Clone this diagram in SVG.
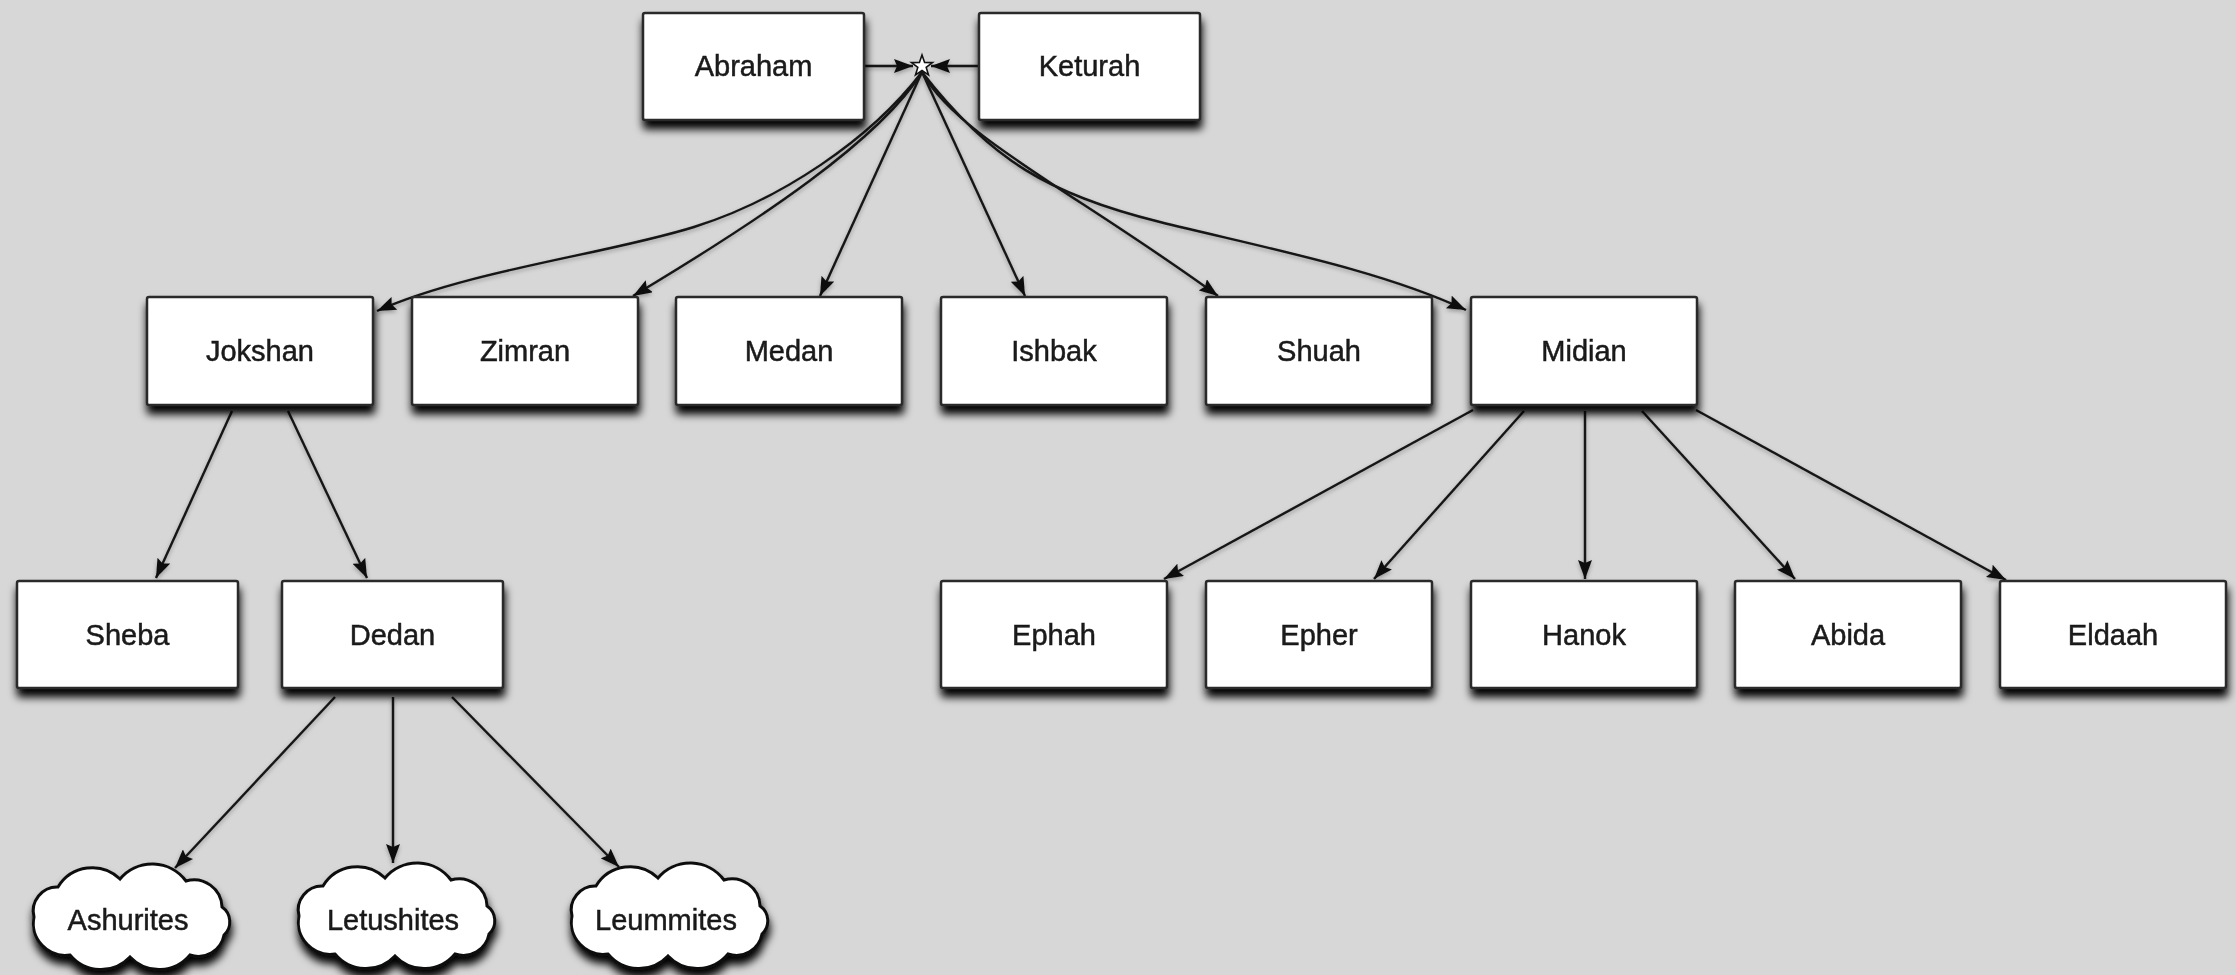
<svg xmlns="http://www.w3.org/2000/svg" width="2236" height="975" viewBox="0 0 2236 975">
  <defs>
    <style>
      .box { fill: #ffffff; stroke: #2a2a2a; stroke-width: 2.5; }
      .cloud { fill: #ffffff; stroke: #111111; stroke-width: 3; }
      .lbl { font-family: "Liberation Sans", Arial, sans-serif; font-size: 29px; fill: #1a1a1a; stroke: #1a1a1a; stroke-width: 0.5; text-anchor: middle; }
      .conn { fill: none; stroke: #151515; stroke-width: 2.4; marker-end: url(#ah); }
      .node { filter: url(#shadow); }
    </style>
    <filter id="shadow" x="-10%" y="-15%" width="120%" height="145%">
      <feDropShadow dx="1" dy="8" stdDeviation="4.5" flood-color="#000000" flood-opacity="1"/>
    </filter>
    <filter id="lshadow" x="-5%" y="-5%" width="110%" height="110%">
      <feDropShadow dx="0" dy="2" stdDeviation="2" flood-color="#000000" flood-opacity="0.3"/>
    </filter>
    <marker id="ah" viewBox="0 0 19 14" refX="19" refY="7" markerWidth="19" markerHeight="14" markerUnits="userSpaceOnUse" orient="auto">
      <path d="M0,0 L19,7 L0,14 L3,7 z" fill="#111111"/>
    </marker>
    <path id="cloudShape" class="cloud" d="M12,54 A24,24 0 0 1 36,24 A40,40 0 0 1 98,16 A42,42 0 0 1 164,18 A28,28 0 0 1 200,44 A18,18 0 0 1 202,72 A26,26 0 0 1 168,92 A40,40 0 0 1 108,94 A40,40 0 0 1 48,92 A32,32 0 0 1 12,54 Z"/>
  </defs>

  <rect x="0" y="0" width="2236" height="975" fill="#d7d7d7"/>

  <g id="connectors" filter="url(#lshadow)">
    <line class="conn" x1="864" y1="66" x2="913" y2="66"/>
    <line class="conn" x1="979" y1="66" x2="931" y2="66"/>
    <path class="conn" d="M922,72 C870,140 780,200 694,227 S470,270 377,311"/>
    <path class="conn" d="M922,72 C880,140 760,220 633,296"/>
    <path class="conn" d="M922,72 L820,296"/>
    <path class="conn" d="M922,72 L1025,296"/>
    <path class="conn" d="M922,72 C955,135 1080,195 1218,296"/>
    <path class="conn" d="M922,72 C990,160 1050,195 1160,222 S1380,270 1466,310"/>
    <path class="conn" d="M232,411 L156,578"/>
    <path class="conn" d="M288,411 L367,578"/>
    <path class="conn" d="M1473,410 L1164,579"/>
    <path class="conn" d="M1524,411 L1374,579"/>
    <path class="conn" d="M1585,411 L1585,579"/>
    <path class="conn" d="M1642,411 L1795,579"/>
    <path class="conn" d="M1696,410 L2006,580"/>
    <path class="conn" d="M335,697 L175,868"/>
    <path class="conn" d="M393,697 L393,863"/>
    <path class="conn" d="M452,697 L619,867"/>
  </g>

  <g id="union">
    <polygon points="922,55 924.6,62.4 932.5,62.6 926.2,67.4 928.5,74.9 922,70.5 915.5,74.9 917.8,67.4 911.5,62.6 919.4,62.4" fill="#ffffff" stroke="#111111" stroke-width="1.6"/>
  </g>

  <g id="abraham" class="node"><rect class="box" x="643" y="13" width="221" height="107" rx="2"/><text class="lbl" x="753.5" y="76">Abraham</text></g>
  <g id="keturah" class="node"><rect class="box" x="979" y="13" width="221" height="107" rx="2"/><text class="lbl" x="1089.5" y="76">Keturah</text></g>

  <g id="jokshan" class="node"><rect class="box" x="147" y="297" width="226" height="108" rx="2"/><text class="lbl" x="260" y="361">Jokshan</text></g>
  <g id="zimran" class="node"><rect class="box" x="412" y="297" width="226" height="108" rx="2"/><text class="lbl" x="525" y="361">Zimran</text></g>
  <g id="medan" class="node"><rect class="box" x="676" y="297" width="226" height="108" rx="2"/><text class="lbl" x="789" y="361">Medan</text></g>
  <g id="ishbak" class="node"><rect class="box" x="941" y="297" width="226" height="108" rx="2"/><text class="lbl" x="1054" y="361">Ishbak</text></g>
  <g id="shuah" class="node"><rect class="box" x="1206" y="297" width="226" height="108" rx="2"/><text class="lbl" x="1319" y="361">Shuah</text></g>
  <g id="midian" class="node"><rect class="box" x="1471" y="297" width="226" height="108" rx="2"/><text class="lbl" x="1584" y="361">Midian</text></g>

  <g id="sheba" class="node"><rect class="box" x="17" y="581" width="221" height="107" rx="2"/><text class="lbl" x="127.5" y="645">Sheba</text></g>
  <g id="dedan" class="node"><rect class="box" x="282" y="581" width="221" height="107" rx="2"/><text class="lbl" x="392.5" y="645">Dedan</text></g>
  <g id="ephah" class="node"><rect class="box" x="941" y="581" width="226" height="107" rx="2"/><text class="lbl" x="1054" y="645">Ephah</text></g>
  <g id="epher" class="node"><rect class="box" x="1206" y="581" width="226" height="107" rx="2"/><text class="lbl" x="1319" y="645">Epher</text></g>
  <g id="hanok" class="node"><rect class="box" x="1471" y="581" width="226" height="107" rx="2"/><text class="lbl" x="1584" y="645">Hanok</text></g>
  <g id="abida" class="node"><rect class="box" x="1735" y="581" width="226" height="107" rx="2"/><text class="lbl" x="1848" y="645">Abida</text></g>
  <g id="eldaah" class="node"><rect class="box" x="2000" y="581" width="226" height="107" rx="2"/><text class="lbl" x="2113" y="645">Eldaah</text></g>

  <g id="ashurites" class="node"><use href="#cloudShape" x="22" y="863"/><text class="lbl" x="128" y="930">Ashurites</text></g>
  <g id="letushites" class="node"><use href="#cloudShape" x="287" y="862"/><text class="lbl" x="393" y="930">Letushites</text></g>
  <g id="leummites" class="node"><use href="#cloudShape" x="560" y="862"/><text class="lbl" x="666" y="930">Leummites</text></g>
</svg>
